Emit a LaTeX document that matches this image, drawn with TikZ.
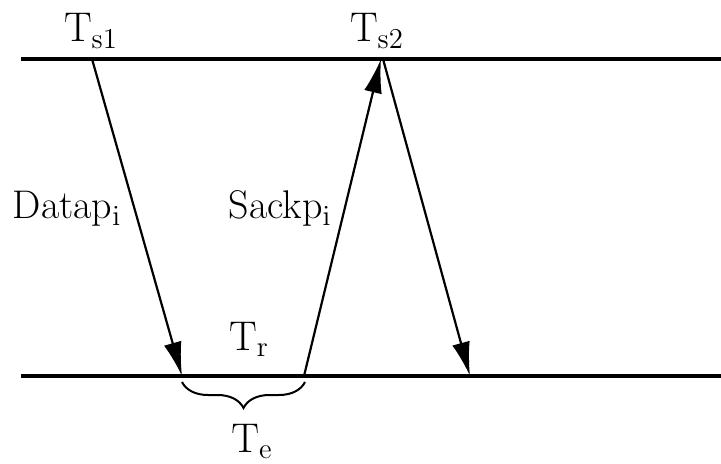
\documentclass[tikz,border=0pt]{standalone}
\usepackage{tikz}
\usetikzlibrary{arrows.meta,decorations.pathreplacing}

\begin{document}
\begin{tikzpicture}[
    x=0.5pt, y=-0.5pt,
    axis/.style={line width=1.6pt},
    msg/.style={line width=1.1pt, -{Latex[length=17pt,width=9pt]}},
    lbl/.style={font=\fontsize{20}{24}\selectfont, inner sep=0pt, anchor=base},
    brc/.style={line width=1pt, decorate, decoration={brace, amplitude=13pt}}
]
\useasboundingbox (0,0) rectangle (721,464);

% Time lines
\coordinate (topL) at (21,59);
\coordinate (topR) at (721,59);
\coordinate (botL) at (21,376);
\coordinate (botR) at (721,376);
\draw[axis] (topL) -- (topR);
\draw[axis] (botL) -- (botR);

% Event points
\coordinate (s1) at (92,59);
\coordinate (r1) at (182,376);
\coordinate (r2) at (304,376);
\coordinate (s2) at (381,59);
\coordinate (s2b) at (383,59);
\coordinate (r3) at (470,376);

% Messages
\draw[msg] (s1) -- (r1);
\draw[msg] (r2) -- (s2);
\draw[msg] (s2b) -- (r3);

% Brace
\coordinate (bA) at (305,382);
\coordinate (bB) at (182,382);
\draw[brc] (bA) -- (bB);

% Labels
\node[lbl] (ts1) at (91,42) {$\mathrm{T}_{\mathrm{s1}}$};
\node[lbl] (ts2) at (377,42) {$\mathrm{T}_{\mathrm{s2}}$};
\node[lbl] (data) at (67,219) {Datap$_{\mathrm{i}}$};
\node[lbl] (sack) at (280,219) {Sackp$_{\mathrm{i}}$};
\node[lbl] (tr) at (249,350) {$\mathrm{T}_{\mathrm{r}}$};
\node[lbl] (te) at (252,452) {$\mathrm{T}_{\mathrm{e}}$};
\end{tikzpicture}
\end{document}
